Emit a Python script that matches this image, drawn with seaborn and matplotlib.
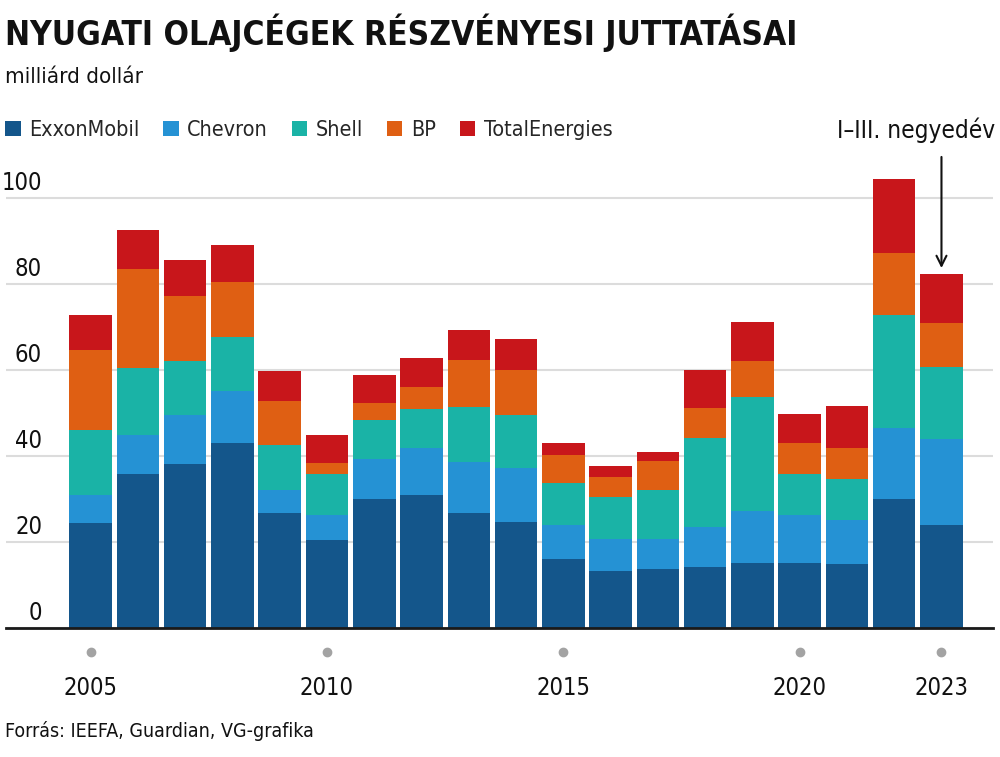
import numpy as np
import pandas as pd
import seaborn as sns
import matplotlib.pyplot as plt
import matplotlib.transforms as mtransforms
from matplotlib.patches import Patch

sns.set_theme(style="white")
plt.rcParams['font.family'] = ['Liberation Sans Narrow', 'DejaVu Sans']
plt.rcParams['font.stretch'] = 'condensed'

years = list(range(2005, 2024))
companies = ["ExxonMobil", "Chevron", "Shell", "BP", "TotalEnergies"]
exxon = [24.4, 35.9, 38.2, 43.0, 26.8, 20.5, 30.1, 30.9, 26.8, 24.7, 16.0, 13.4, 13.7, 14.3, 15.1, 15.1, 14.9, 30.0, 24.1]
chevron = [6.6, 8.9, 11.3, 12.1, 5.4, 5.8, 9.3, 11.0, 11.9, 12.5, 7.9, 7.3, 7.0, 9.2, 12.1, 11.2, 10.3, 16.5, 19.9]
shell = [15.0, 15.7, 12.5, 12.5, 10.3, 9.5, 9.0, 9.0, 12.8, 12.3, 9.8, 9.8, 11.4, 20.7, 26.5, 9.6, 9.4, 26.4, 16.7]
bp = [18.6, 22.9, 15.2, 12.8, 10.4, 2.5, 4.0, 5.1, 10.8, 10.5, 6.6, 4.6, 6.7, 7.0, 8.4, 7.1, 7.4, 14.3, 10.2]
total = [8.3, 9.2, 8.3, 8.6, 6.9, 6.7, 6.4, 6.7, 6.9, 7.2, 2.7, 2.7, 2.1, 8.8, 9.0, 6.9, 9.7, 17.3, 11.5]
tick_years = [2005, 2010, 2015, 2020, 2023]
y_ticks = [0, 20, 40, 60, 80, 100]

colors = ["#14568b", "#2592d4", "#1ab3a6", "#df5f13", "#c8161b"]

series = [exxon, chevron, shell, bp, total]
cum = np.cumsum(np.array(series), axis=0)
ylabels = [str(y) for y in years]

fig = plt.figure(figsize=(10, 7.57), dpi=100)
ax = fig.add_axes([0.006, 0.170, 0.987, 0.597])

for i in reversed(range(len(companies))):
    df = pd.DataFrame({"year": ylabels, "value": cum[i]})
    sns.barplot(data=df, x="year", y="value", order=ylabels, color=colors[i],
                saturation=1, width=0.9, linewidth=0, ax=ax, zorder=3)

ax.set_xlim(-1.79, 19.09)
ax.set_ylim(0, 105)
ax.set_yticks(y_ticks)
ax.set_yticklabels([])
ax.yaxis.grid(True, color="#dcdcdc", linewidth=1.5, zorder=0)
ax.set_axisbelow(True)
for s in ["top", "right", "left"]:
    ax.spines[s].set_visible(False)
ax.spines["bottom"].set_color("#1a1a1a")
ax.spines["bottom"].set_linewidth(2)
ax.spines["bottom"].set_zorder(5)
ax.set_xlabel("")
ax.set_ylabel("")

tick_pos = [years.index(y) for y in tick_years]
ax.set_xticks(tick_pos)
ax.set_xticklabels([str(y) for y in tick_years], fontsize=17, color="#111111")
ax.tick_params(axis="x", length=0, pad=34)
ax.tick_params(axis="y", length=0)

trans_dots = mtransforms.blended_transform_factory(ax.transData, ax.transAxes)
ax.plot(tick_pos, [-0.053] * len(tick_pos), "o", color="#a3a3a3", ms=6,
        transform=trans_dots, clip_on=False)

trans_y = mtransforms.blended_transform_factory(ax.transAxes, ax.transData)
for v in y_ticks:
    ax.annotate(str(v), xy=(0.0365, v), xycoords=trans_y, xytext=(0, 6),
                textcoords="offset points", ha="right", va="baseline",
                fontsize=17, color="#111111")

# annotation for 2023
ax.annotate("", xy=(years.index(2023), cum[-1][-1] + 1.3), xycoords="data",
            xytext=(0, 80), textcoords="offset points",
            arrowprops=dict(arrowstyle="->", color="#111111", lw=1.5,
                            mutation_scale=18, shrinkA=0, shrinkB=0),
            annotation_clip=False)
fig.text(0.995, 1 - 130 / 757, "I–III. negyedév", ha="right", va="center",
         fontsize=17.5, color="#111111")

# titles
fig.text(0.005, 1 - 33 / 757, "NYUGATI OLAJCÉGEK RÉSZVÉNYESI JUTTATÁSAI",
         ha="left", va="center", fontsize=24, fontweight="bold", color="#111111")
fig.text(0.005, 1 - 77 / 757, "milliárd dollár", ha="left", va="center",
         fontsize=16, color="#111111")
fig.text(0.005, 1 - 731 / 757, "Forrás: IEEFA, Guardian, VG-grafika", ha="left",
         va="center", fontsize=14, color="#111111")

handles = [Patch(facecolor=c, edgecolor="none") for c in colors]
fig.legend(handles, companies, loc="center left", bbox_to_anchor=(0.005, 1 - 130 / 757),
           ncol=5, frameon=False, fontsize=15.5, handlelength=0.72, handleheight=0.72,
           handletextpad=0.4, columnspacing=1.1, borderaxespad=0, borderpad=0)

fig.savefig("out.png", dpi=100)
